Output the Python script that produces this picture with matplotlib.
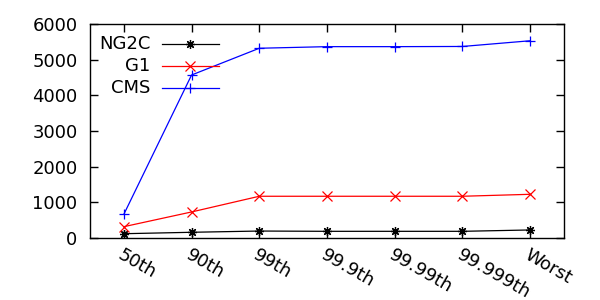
import matplotlib
matplotlib.use("Agg")
import matplotlib.pyplot as plt
import numpy as np

# percentile latency data
categories = ["50th", "90th", "99th", "99.9th", "99.99th", "99.999th", "Worst"]
ng2c = [120, 160, 195, 187, 187, 187, 225]
g1 = [317, 730, 1170, 1170, 1170, 1170, 1225]
cms = [665, 4570, 5320, 5365, 5365, 5370, 5530]

series = [
    ("NG2C", ng2c, "black", (8, 2, 0)),
    ("G1", g1, "#ff0000", "x"),
    ("CMS", cms, "#0000ff", "+"),
]

plt.rcParams["font.family"] = "DejaVu Sans"
plt.rcParams["font.size"] = 13

fig = plt.figure(figsize=(6, 3), dpi=100)
ax = fig.add_axes([0.15, 0.2067, 0.79, 0.7133])

x = np.arange(len(categories))
for name, vals, col, mk in series:
    ax.plot(x, vals, color=col, lw=0.9, marker=mk, ms=6.5, mew=0.9)

ax.set_xlim(-0.5, len(categories) - 0.5)
ax.set_ylim(0, 6000)
ax.set_yticks(range(0, 6001, 1000))
ax.set_xticks(x)
ax.set_xticklabels(categories, rotation=-30, ha="left", va="top",
                   rotation_mode="anchor")
ax.tick_params(direction="in", length=6, width=1, top=True, right=True)
ax.tick_params(axis="y", pad=9)
ax.tick_params(axis="x", pad=6)
for s in ax.spines.values():
    s.set_linewidth(1)

# gnuplot-style key: text right-aligned, sample to the right
rows = [0.907, 0.804, 0.701]
for (name, vals, col, mk), yy in zip(series, rows):
    ax.text(0.127, yy, name, transform=ax.transAxes, ha="right", va="center")
    ax.plot([0.152, 0.272], [yy, yy], color=col, lw=0.9, transform=ax.transAxes)
    ax.plot([0.211], [yy], color=col, marker=mk, ms=6.5, mew=0.9,
            transform=ax.transAxes)

fig.savefig("out.png", dpi=100)
